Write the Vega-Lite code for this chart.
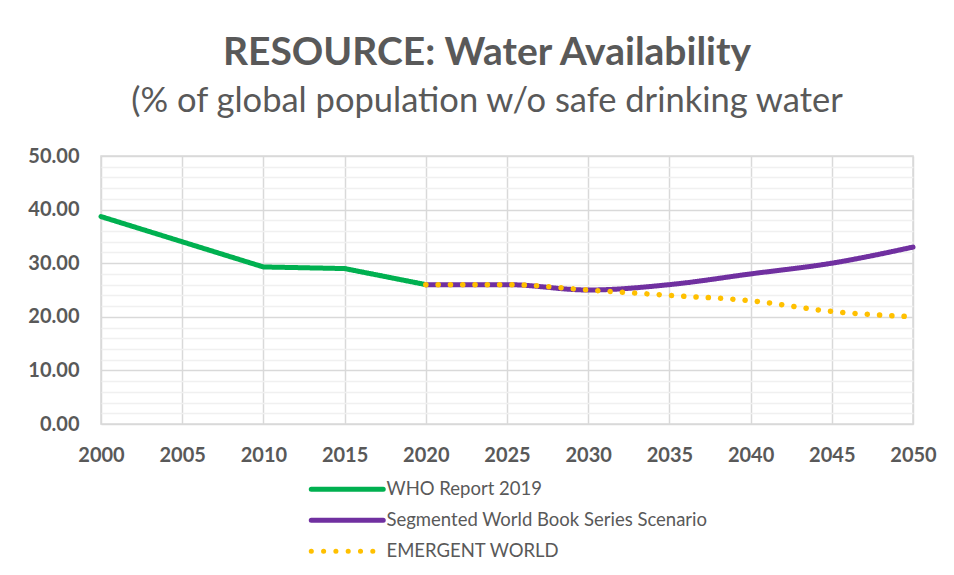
{
  "$schema": "https://vega.github.io/schema/vega-lite/v6.json",
  "autosize": {"type": "none"},
  "width": 812,
  "height": 268,
  "padding": {"left": 101, "top": 156, "right": 41, "bottom": 151},
  "background": "white",
  "title": {
    "text": "RESOURCE: Water Availability",
    "subtitle": "(% of global population w/o safe drinking water",
    "anchor": "middle",
    "dx": -20,
    "offset": 28,
    "font": "Lato",
    "fontSize": 39,
    "fontWeight": "bold",
    "color": "#595959",
    "subtitleFont": "Lato",
    "subtitleFontSize": 34.5,
    "subtitleFontStyle": "normal",
    "subtitleColor": "#595959",
    "subtitlePadding": 12
  },
  "config": {
    "view": {"stroke": "#d9d9d9", "strokeWidth": 1.5},
    "font": "Lato"
  },
  "data": {
    "values": [
      {"year": 2000, "series": "WHO Report 2019", "value": 38.7},
      {"year": 2005, "series": "WHO Report 2019", "value": 34.0},
      {"year": 2010, "series": "WHO Report 2019", "value": 29.3},
      {"year": 2015, "series": "WHO Report 2019", "value": 29.0},
      {"year": 2020, "series": "WHO Report 2019", "value": 26.0},
      {"year": 2020, "series": "Segmented World Book Series Scenario", "value": 26.0},
      {"year": 2025, "series": "Segmented World Book Series Scenario", "value": 26.0},
      {"year": 2030, "series": "Segmented World Book Series Scenario", "value": 25.0},
      {"year": 2035, "series": "Segmented World Book Series Scenario", "value": 26.0},
      {"year": 2040, "series": "Segmented World Book Series Scenario", "value": 28.0},
      {"year": 2045, "series": "Segmented World Book Series Scenario", "value": 30.0},
      {"year": 2050, "series": "Segmented World Book Series Scenario", "value": 33.0},
      {"year": 2020, "series": "EMERGENT WORLD", "value": 26.0},
      {"year": 2025, "series": "EMERGENT WORLD", "value": 26.0},
      {"year": 2030, "series": "EMERGENT WORLD", "value": 25.0},
      {"year": 2035, "series": "EMERGENT WORLD", "value": 24.0},
      {"year": 2040, "series": "EMERGENT WORLD", "value": 23.0},
      {"year": 2045, "series": "EMERGENT WORLD", "value": 21.0},
      {"year": 2050, "series": "EMERGENT WORLD", "value": 20.0}
    ]
  },
  "encoding": {
    "x": {
      "field": "year", "type": "quantitative",
      "scale": {"domain": [2000, 2050], "nice": false, "zero": false},
      "axis": {
        "title": null,
        "values": [2000, 2005, 2010, 2015, 2020, 2025, 2030, 2035, 2040, 2045, 2050],
        "format": "d",
        "domain": false, "ticks": false,
        "grid": true, "gridColor": "#d9d9d9", "gridWidth": 1.5,
        "labelFont": "Lato", "labelFontSize": 20, "labelFontWeight": "bold",
        "labelColor": "#595959", "labelPadding": 21, "labelFlush": false
      }
    },
    "y": {
      "field": "value", "type": "quantitative",
      "scale": {"domain": [0, 50], "nice": false},
      "axis": {
        "title": null,
        "values": [0, 2, 4, 6, 8, 10, 12, 14, 16, 18, 20, 22, 24, 26, 28, 30, 32, 34, 36, 38, 40, 42, 44, 46, 48, 50],
        "labelExpr": "datum.value % 10 === 0 ? format(datum.value, '.2f') : ''",
        "domain": false, "ticks": false,
        "grid": true,
        "gridColor": {"condition": {"test": "datum.value % 10 === 0", "value": "#d9d9d9"}, "value": "#f0f0f0"},
        "gridWidth": 1.5,
        "labelFont": "Lato", "labelFontSize": 20, "labelFontWeight": "bold",
        "labelColor": "#595959", "labelPadding": 22
      }
    },
    "color": {
      "field": "series", "type": "nominal",
      "scale": {
        "domain": ["WHO Report 2019", "Segmented World Book Series Scenario", "EMERGENT WORLD"],
        "range": ["#00b050", "#7030a0", "#ffc000"]
      },
      "legend": {
        "title": null,
        "orient": "none",
        "legendX": 237,
        "legendY": 324,
        "direction": "vertical",
        "symbolType": "M-6,0H6",
        "symbolSize": 144,
        "symbolStrokeWidth": 5,
        "labelFont": "Lato",
        "labelFontSize": 18.5,
        "labelColor": "#595959",
        "labelOffset": 30,
        "labelLimit": 600,
        "rowPadding": 10,
        "encode": {"symbols": {"update": {"strokeCap": {"value": "round"}}}}
      }
    },
    "strokeDash": {
      "field": "series", "type": "nominal",
      "scale": {
        "domain": ["WHO Report 2019", "Segmented World Book Series Scenario", "EMERGENT WORLD"],
        "range": [[1, 0], [1, 0], [0.1, 12.2]]
      },
      "legend": null
    }
  },
  "layer": [
    {
      "transform": [{"filter": "datum.series === 'WHO Report 2019'"}],
      "mark": {"type": "line", "strokeWidth": 5, "strokeCap": "round"}
    },
    {
      "transform": [{"filter": "datum.series === 'Segmented World Book Series Scenario'"}],
      "mark": {"type": "line", "strokeWidth": 5, "strokeCap": "round", "interpolate": "monotone"}
    },
    {
      "transform": [{"filter": "datum.series === 'EMERGENT WORLD'"}],
      "mark": {"type": "line", "strokeWidth": 5.5, "strokeCap": "round", "interpolate": "monotone"}
    }
  ]
}
